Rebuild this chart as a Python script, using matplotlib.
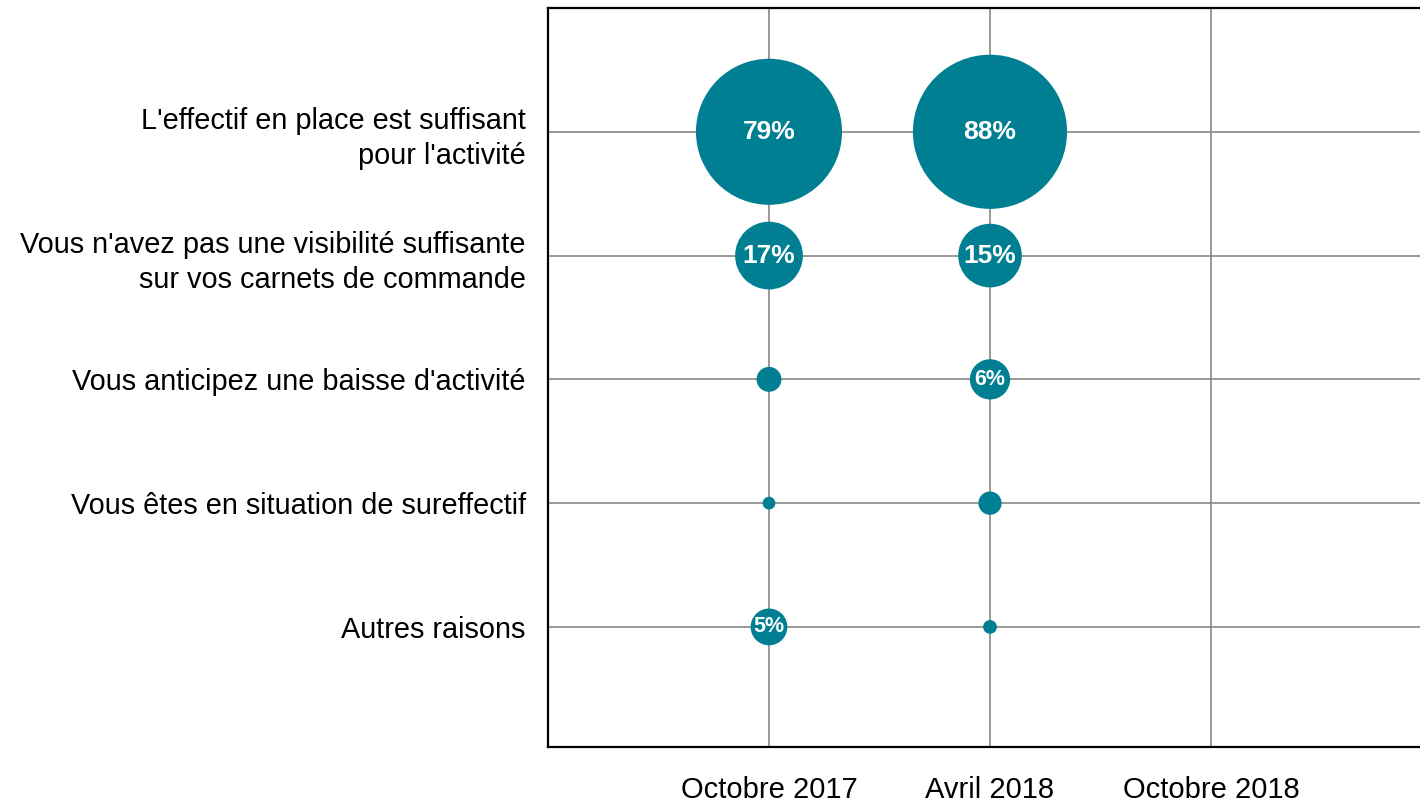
#!/usr/bin/env python3
import matplotlib
matplotlib.use('Agg')
import matplotlib.pyplot as plt
import numpy as np

# data (percent of respondents)
reasons = [
    "L'effectif en place est suffisant\npour l'activité",
    "Vous n'avez pas une visibilité suffisante\nsur vos carnets de commande",
    "Vous anticipez une baisse d'activité",
    "Vous êtes en situation de sureffectif",
    "Autres raisons",
]
periods = ["Octobre 2017", "Avril 2018", "Octobre 2018"]
oct_2017 = [79, 17, 2.3, 0.6, 5]
avr_2018 = [88, 15, 6, 2, 0.7]
series = [oct_2017, avr_2018]

teal = '#007F93'
font = ['Liberation Sans', 'DejaVu Sans']

fig = plt.figure(figsize=(14.2, 8.06), dpi=100)
ax = fig.add_axes([548 / 1420, 59 / 806, 884 / 1420, 739 / 806])

for i, vals in enumerate(series):
    xs = np.full(len(vals), i + 1)
    ys = np.arange(len(vals))
    ax.scatter(xs, ys, s=np.array(vals) * 140, color=teal, zorder=3, linewidths=0)
    for y, v in zip(ys, vals):
        if v >= 5:
            fs = 19 if v >= 10 else 15.5
            ax.text(i + 1, y, f"{v:.0f}%", ha='center', va='center', color='white',
                    fontsize=fs, fontweight='bold', family=font, zorder=4)

ax.set_xlim(0, 4)
ax.set_ylim(4.97, -1)
ax.set_xticks(range(1, len(periods) + 1))
ax.set_xticklabels(periods, family=font, fontsize=21)
ax.set_yticks(range(len(reasons)))
ax.set_yticklabels(reasons, family=font, fontsize=20.8, linespacing=1.35)
ax.tick_params(axis='both', length=0)
ax.tick_params(axis='x', pad=21)
ax.tick_params(axis='y', pad=16)
ax.grid(True, color='#888888', linewidth=1.2, zorder=0)
ax.set_axisbelow(True)
for side in ['left', 'top', 'bottom']:
    ax.spines[side].set_color('black')
    ax.spines[side].set_linewidth(1.6)
ax.spines['right'].set_visible(False)

fig.savefig('out.png', dpi=100)
